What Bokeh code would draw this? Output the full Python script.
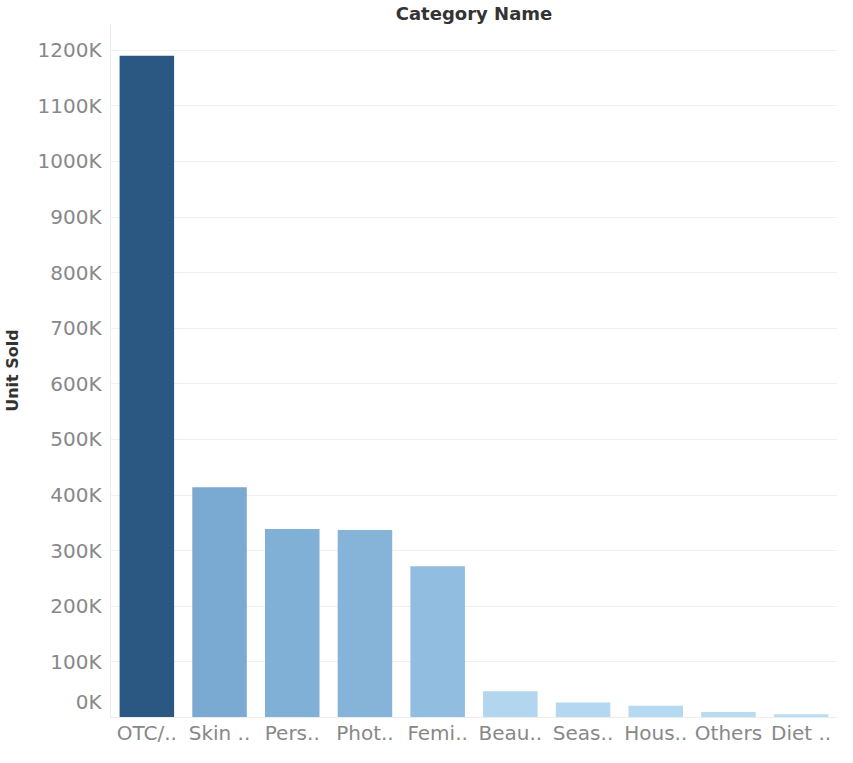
from bokeh.plotting import figure
from bokeh.models import FactorRange, Range1d, FixedTicker, ColumnDataSource
from bokeh.embed import file_html
from bokeh.resources import INLINE

# ---- data ----
categories = ["OTC/..", "Skin ..", "Pers..", "Phot..", "Femi..", "Beau..", "Seas..", "Hous..", "Others", "Diet .."]
units_sold = [1190000, 414000, 339000, 337000, 272000, 47000, 27000, 21000, 10000, 6000]
y_ticks = [0, 100000, 200000, 300000, 400000, 500000, 600000, 700000, 800000, 900000, 1000000, 1100000, 1200000]
y_tick_labels = ["0K", "100K", "200K", "300K", "400K", "500K", "600K", "700K", "800K", "900K", "1000K", "1100K", "1200K"]

# ---- styles / layout ----
bar_colors = ["#2b5783", "#7aaad2", "#80b0d6", "#86b4d8", "#90bde0",
              "#b1d6ee", "#b4d8ef", "#b5d9f0", "#b7dbf0", "#b8dcf1"]
FONT = "DejaVu Sans"
TICK_COLOR = "#888888"
Y_MAX = 1248000
FRAME_H = 693
ZERO_LABEL_LIFT_PX = 15

src = ColumnDataSource(dict(cat=categories, val=units_sold, color=bar_colors))

p = figure(
    x_range=FactorRange(*categories),
    y_range=Range1d(0, Y_MAX),
    width=837, height=747,
    min_border_left=108, min_border_right=0, min_border_top=17, min_border_bottom=27,
    output_backend="svg", toolbar_location=None,
    title="Category Name",
)

p.vbar(x="cat", top="val", width=0.75, source=src, fill_color="color", line_color=None)

# title
p.title.align = "center"
p.title.text_font = FONT
p.title.text_font_style = "bold"
p.title.text_font_size = "18px"
p.title.text_color = "#333333"
p.title.standoff = 0
p.title.offset = 0

# y axis: the "0K" label sits a little above the baseline, as in the reference
zero_label_pos = y_ticks[0] + ZERO_LABEL_LIFT_PX * Y_MAX / FRAME_H
label_ticks = [zero_label_pos] + y_ticks[1:]
yax = p.yaxis[0]
yax.ticker = FixedTicker(ticks=label_ticks)
yax.major_label_overrides = {t: lab for t, lab in zip(label_ticks, y_tick_labels)}
yax.major_label_text_font = FONT
yax.major_label_text_font_size = "20px"
yax.major_label_text_color = TICK_COLOR
yax.major_label_standoff = 9
yax.major_tick_line_color = None
yax.minor_tick_line_color = None
yax.major_tick_out = 0
yax.major_tick_in = 0
yax.axis_line_color = "#ececec"
yax.axis_label = "Unit Sold"
yax.axis_label_text_font = FONT
yax.axis_label_text_font_style = "bold"
yax.axis_label_text_font_size = "16px"
yax.axis_label_text_color = "#333333"
yax.axis_label_standoff = 12

# x axis
xax = p.xaxis[0]
xax.major_label_text_font = FONT
xax.major_label_text_font_size = "20px"
xax.major_label_text_color = TICK_COLOR
xax.major_tick_line_color = None
xax.minor_tick_line_color = None
xax.major_tick_out = 0
xax.major_tick_in = 0
xax.major_label_standoff = 3
xax.axis_line_color = "#ececec"

# grid
p.xgrid.grid_line_color = None
p.ygrid.ticker = FixedTicker(ticks=y_ticks)
p.ygrid.grid_line_color = "#f0f0f0"
p.outline_line_color = None

open("out.html", "w").write(file_html(p, INLINE))
